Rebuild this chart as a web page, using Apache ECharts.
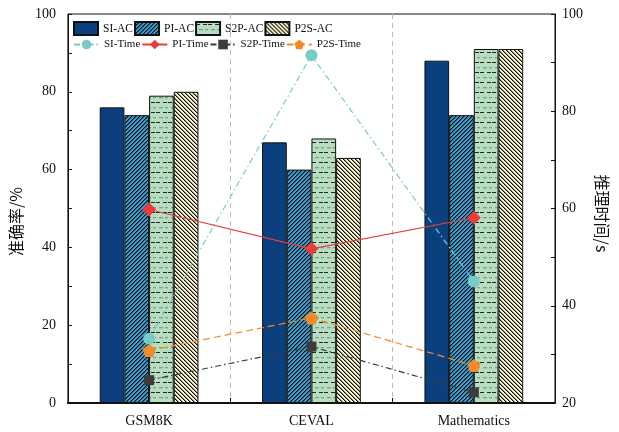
<!DOCTYPE html>
<html><head><meta charset="utf-8">
<script src="https://cdn.jsdelivr.net/npm/echarts@6/dist/echarts.min.js"></script>
<style>html,body{margin:0;padding:0;background:#fff}#c{width:619px;height:432px}</style>
</head><body><div id="c"></div>
<script>
const categories = ['GSM8K', 'CEVAL', 'Mathematics'];
const siAC = [76, 67, 88];
const piAC = [74, 60, 74];
const s2pAC = [79, 68, 91];
const p2sAC = [80, 63, 91];
const siTime = [33.2, 91.5, 45.0];
const piTime = [59.8, 51.7, 58.1];
const s2pTime = [24.7, 31.6, 22.2];
const p2sTime = [30.8, 37.5, 27.7];

function hatch(bg, dir) {
  const n = 4;
  const c = document.createElement('canvas');
  c.width = n; c.height = n;
  const g = c.getContext('2d');
  g.fillStyle = bg; g.fillRect(0, 0, n, n);
  for (let y = 0; y < n; y++) {
    const x = dir > 0 ? (n - 1 - y) % n : y % n;
    g.fillStyle = 'rgba(10,10,10,1)';
    g.fillRect(x, y, 1, 1);
    g.fillStyle = 'rgba(10,10,10,0.45)';
    g.fillRect((x + 1) % n, y, 1, 1);
  }
  return { image: c, repeat: 'repeat' };
}
function dashes(bg) {
  const c = document.createElement('canvas');
  c.width = 12; c.height = 10;
  const g = c.getContext('2d');
  g.fillStyle = bg; g.fillRect(0, 0, 12, 10);
  g.fillStyle = '#222';
  g.fillRect(0, 2, 4, 1); g.fillRect(7, 2, 4, 1);
  g.fillStyle = '#8a9a8e';
  g.fillRect(3, 7, 4, 1.3); g.fillRect(9, 7, 3, 1.3);
  return { image: c, repeat: 'repeat' };
}

const serif = '"Liberation Serif","Times New Roman",serif';
const cjk = '"Noto Sans CJK SC",sans-serif';
const pentagon = 'path://M0,-1L0.951,-0.309L0.588,0.809L-0.588,0.809L-0.951,-0.309Z';
const chart = echarts.init(document.getElementById('c'), null, { renderer: 'canvas' });

function barS(name, data, color) {
  return { name, type: 'bar', data, barWidth: '15.2%', barGap: '0%',
    itemStyle: { color, borderColor: '#111', borderWidth: 1 }, z: 2 };
}
function lineS(name, data, color, type, symbol, size) {
  return { name, type: 'line', yAxisIndex: 1, data, symbol, symbolSize: size,
    lineStyle: { color, width: 1.2, type }, itemStyle: { color }, z: 5 };
}

chart.setOption({
  animation: false,
  backgroundColor: '#fff',
  textStyle: { fontFamily: serif },
  grid: { left: 66, right: 64, top: 14, bottom: 29, show: true, borderColor: '#111', borderWidth: 1 },
  legend: [
    { data: ['SI-AC', 'PI-AC', 'S2P-AC', 'P2S-AC'].map(n => ({ name: n, icon: 'rect' })),
      left: 68, top: 16, itemWidth: 24, itemHeight: 13,
      itemGap: 1, textStyle: { fontFamily: serif, fontSize: 11.5, color: '#111' } },
    { data: ['SI-Time', 'PI-Time', 'S2P-Time', 'P2S-Time'], left: 68, top: 34, itemWidth: 25, itemHeight: 12,
      itemGap: 1, textStyle: { fontFamily: serif, fontSize: 11, color: '#111' } }
  ],
  xAxis: {
    type: 'category', data: categories, boundaryGap: true,
    axisLine: { lineStyle: { color: '#111', width: 2 } },
    axisTick: { show: true, inside: true, length: 5, lineStyle: { color: '#111' } },
    axisLabel: { fontFamily: serif, fontSize: 14, color: '#111', margin: 11 },
    splitLine: { show: true, lineStyle: { color: '#bbb', type: [5, 4], width: 1 } }
  },
  yAxis: [
    { type: 'value', min: 0, max: 100, interval: 20, position: 'left',
      name: '准确率/%', nameLocation: 'middle', nameGap: 36,
      nameTextStyle: { fontFamily: cjk, fontSize: 16, color: '#111', padding: [0, 0, 0, -26] },
      axisLine: { show: true, lineStyle: { color: '#111', width: 1 } },
      axisTick: { show: true, inside: true, length: 4, lineStyle: { color: '#111' } },
      minorTick: { show: true, splitNumber: 2, length: 4, lineStyle: { color: '#111' } },
      axisLabel: { fontFamily: serif, fontSize: 14, color: '#111', margin: 12 },
      splitLine: { show: false } },
    { type: 'value', min: 20, max: 100, interval: 20, position: 'right',
      name: '推理时间/s', nameLocation: 'middle', nameGap: 36, nameRotate: -90,
      nameTextStyle: { fontFamily: cjk, fontSize: 16, color: '#111', padding: [0, 0, 0, 10] },
      axisLine: { show: true, lineStyle: { color: '#111', width: 1 } },
      axisTick: { show: true, inside: true, length: 4, lineStyle: { color: '#111' } },
      minorTick: { show: true, splitNumber: 2, length: 4, lineStyle: { color: '#111' } },
      axisLabel: { fontFamily: serif, fontSize: 14, color: '#111', margin: 7 },
      splitLine: { show: false } }
  ],
  series: [
    barS('SI-AC', siAC, '#0b3f7e'),
    barS('PI-AC', piAC, hatch('#3a9fd2', 1)),
    barS('S2P-AC', s2pAC, dashes('#b5dfbf')),
    barS('P2S-AC', p2sAC, hatch('#fdf9cf', -1)),
    lineS('SI-Time', siTime, '#78cbc6', [6, 3, 1.5, 3], 'circle', 12),
    lineS('PI-Time', piTime, '#eb3c3c', 'solid', 'diamond', 14),
    lineS('S2P-Time', s2pTime, '#3c3c3c', [6, 3, 1.5, 3], 'rect', 10),
    lineS('P2S-Time', p2sTime, '#f18a2b', [7, 4], pentagon, 13)
  ]
});
</script></body></html>
